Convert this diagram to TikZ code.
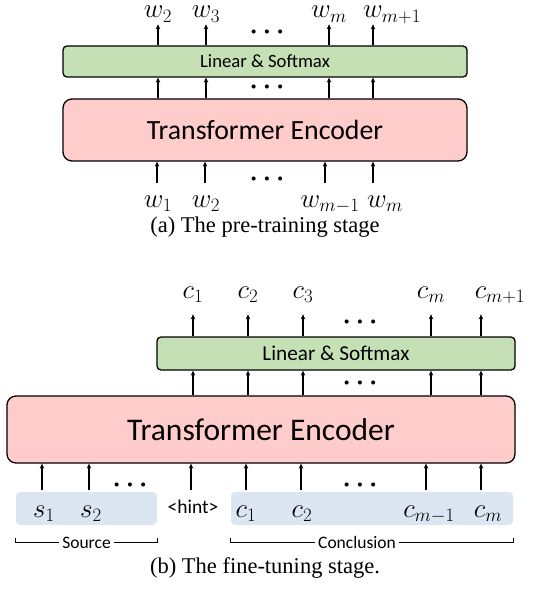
\RequirePackage{fix-cm}
\documentclass[tikz,border=0pt]{standalone}
\usepackage{fontspec}
\setmainfont{Liberation Serif}
\newfontfamily\calib{Carlito}
\usetikzlibrary{arrows.meta,calc}
\definecolor{lsgreen}{HTML}{C5E0B4}
\definecolor{tepink}{HTML}{FFCCCC}
\definecolor{inblue}{HTML}{DCE5F2}
\tikzset{
 lsbox/.style={draw, line width=1.3pt, fill=lsgreen, rounded corners=4pt, inner sep=0pt},
 tebox/.style={draw, line width=1.3pt, fill=tepink, rounded corners=9pt, inner sep=0pt},
 inbox/.style={fill=inblue, rounded corners=4pt, inner sep=0pt},
 arr/.style={-{Stealth[length=5pt,width=4.5pt]}, line width=1.1pt},
 tok/.style={inner sep=0pt, anchor=base, font=\fontsize{27}{29}\selectfont},
 dotsn/.style={inner sep=0pt, anchor=base, text height=8pt, text depth=0pt, font=\boldmath\fontsize{26}{28}\selectfont},
 capt/.style={inner sep=0pt, anchor=base, font=\fontsize{22.5}{25}\selectfont},
 brace/.style={line width=1pt},
 bracelbl/.style={fill=white, inner sep=3pt, font=\calib\fontsize{17.5}{19}\selectfont},
}
\begin{document}
\begin{tikzpicture}[x=1pt,y=-1pt]
\useasboundingbox (0,0) rectangle (544,599);
% ---------- (a) pre-training ----------
\node[lsbox, minimum width=404pt, minimum height=31pt, font=\calib\fontsize{18.7}{20}\selectfont] (ls1) at (265,61.5) {Linear \& Softmax};
\node[tebox, minimum width=404pt, minimum height=62pt, font=\calib\fontsize{27.8}{30}\selectfont] (te1) at (265,130) {Transformer Encoder};
% outputs
\node[tok] (o2) at (158,18) {$w_2$};
\node[tok] (o3) at (206,18) {$w_3$};
\node[tok] (om) at (329,18) {$w_m$};
\node[tok] (om1) at (392,18) {$w_{m+1}$};
\coordinate (o4x) at (373,18);
\node[dotsn] (d1) at (267,38.5) {$\cdots$};
\node[dotsn] (d2) at (267,93.5) {$\cdots$};
\node[dotsn] (d3) at (267,185.5) {$\cdots$};
\foreach \n in {o2,o3,om,o4x}{
  \draw[arr] (ls1.north -| \n) -- ($(ls1.north -| \n)+(0,-21)$);
  \draw[arr] (te1.north -| \n) -- (ls1.south -| \n);
}
% inputs
\node[tok] (i1) at (158,207) {$w_1$};
\node[tok] (i2) at (206,207) {$w_2$};
\node[tok] (im1) at (330,207) {$w_{m-1}$};
\node[tok] (im) at (385,207) {$w_m$};
\foreach \n/\x in {i1/157,i2/205,im1/325,im/373}{
  \coordinate (s\n) at (\x,183);
  \draw[arr] (s\n) -- (te1.south -| s\n);
}
\node[capt] (capa) at (265,232) {(a) The pre-training stage};
% ---------- (b) fine-tuning ----------
\node[lsbox, minimum width=358pt, minimum height=33pt, font=\calib\fontsize{21.2}{23}\selectfont] (ls2) at (336,353.5) {Linear \& Softmax};
\node[tebox, minimum width=508pt, minimum height=67pt, font=\calib\fontsize{31.5}{34}\selectfont] (te2) at (261,429.5) {Transformer Encoder};
\node[tok] (c1) at (193,298) {$c_1$};
\node[tok] (c2) at (248,298) {$c_2$};
\node[tok] (c3) at (303,298) {$c_3$};
\node[tok] (cm) at (431,298) {$c_m$};
\node[tok] (cm1) at (500,298) {$c_{m+1}$};
\coordinate (c5x) at (481,298);
\node[dotsn] (d4) at (360,328.5) {$\cdots$};
\node[dotsn] (d5) at (360,389.5) {$\cdots$};
\foreach \n in {c1,c2,c3,cm,c5x}{
  \draw[arr] (ls2.north -| \n) -- ($(ls2.north -| \n)+(0,-22)$);
  \draw[arr] (te2.north -| \n) -- (ls2.south -| \n);
}
% input boxes
\node[inbox, minimum width=141pt, minimum height=33pt] (src) at (86.5,508.5) {};
\node[inbox, minimum width=282pt, minimum height=33pt] (con) at (372,508.5) {};
\node[tok] (s1) at (44,517) {$s_1$};
\node[tok] (s2) at (91,517) {$s_2$};
\node[inner sep=0pt, anchor=base, font=\calib\fontsize{19.5}{21}\selectfont] (hint) at (193,513) {<hint>};
\node[tok] (ci1) at (246,517) {$c_1$};
\node[tok] (ci2) at (302,517) {$c_2$};
\node[tok] (cim1) at (429,517) {$c_{m-1}$};
\node[tok] (cim) at (488,517) {$c_m$};
\node[dotsn] (d6) at (130,491) {$\cdots$};
\node[dotsn] (d7) at (360,491) {$\cdots$};
\foreach \x/\n in {42/a,89/b,191/c,246/d,301/e,426/f,481/g}{
  \coordinate (in\n) at (\x,490);
  \draw[arr] (in\n) -- (te2.south -| in\n);
}
% braces
\draw[brace] ([yshift=-12.5pt]src.south west) -- ([yshift=-17.5pt]src.south west) -- ([yshift=-17.5pt]src.south east) -- ([yshift=-12.5pt]src.south east);
\node[bracelbl] (srcl) at ([yshift=-17.5pt]src.south) {Source};
\draw[brace] ([yshift=-12.5pt]con.south west) -- ([yshift=-17.5pt]con.south west) -- ([yshift=-17.5pt]con.south east) -- ([yshift=-12.5pt]con.south east);
\node[bracelbl] (conl) at (357,542.5) {Conclusion};
\node[capt] (capb) at (265,573) {(b) The fine-tuning stage.};
\end{tikzpicture}
\end{document}
